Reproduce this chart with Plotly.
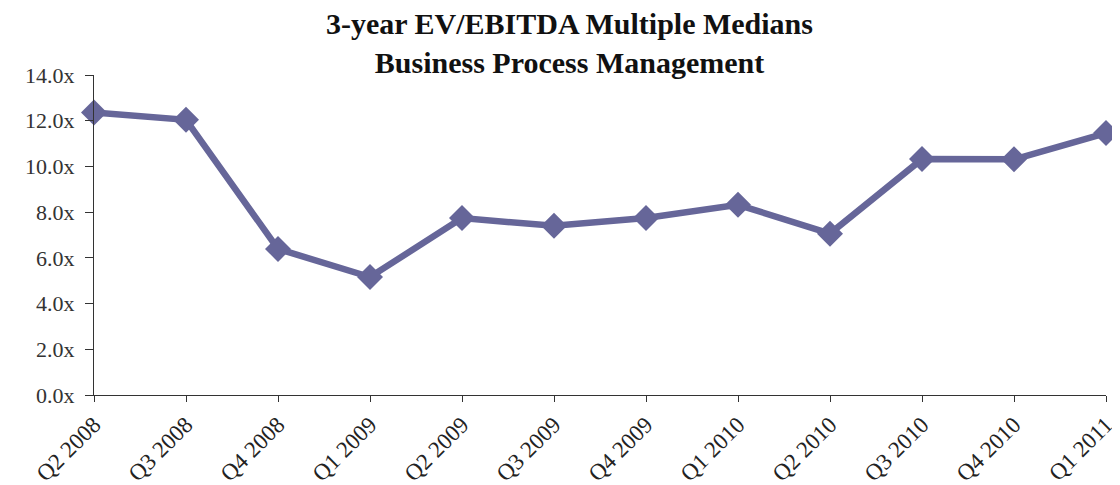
import plotly.graph_objects as go

quarters = ["Q2 2008", "Q3 2008", "Q4 2008", "Q1 2009", "Q2 2009", "Q3 2009",
            "Q4 2009", "Q1 2010", "Q2 2010", "Q3 2010", "Q4 2010", "Q1 2011"]
multiples = [12.36, 12.04, 6.39, 5.16, 7.74, 7.40, 7.74, 8.32, 7.06, 10.32, 10.31, 11.46]
y_ticks = [0, 2, 4, 6, 8, 10, 12, 14]
y_labels = [f"{v:.1f}x" for v in y_ticks]
title_lines = ["3-year EV/EBITDA Multiple Medians", "Business Process Management"]

fig = go.Figure(go.Scatter(
    x=quarters, y=multiples, mode="lines+markers",
    line=dict(color="#666699", width=6.5),
    marker=dict(symbol="diamond", size=20, color="#666699"),
    cliponaxis=False,
))

# page body has an 8px default margin; size the figure to fit the window
fig.update_layout(
    width=1112, height=477,
    margin=dict(l=86, r=14, t=67, b=90),
    paper_bgcolor="white", plot_bgcolor="white",
    showlegend=False,
    font=dict(family="Liberation Serif, Times New Roman, serif", color="#222222"),
)
fig.add_annotation(
    text="<b>" + "<br>".join(title_lines) + "</b>",
    xref="paper", yref="paper", x=0.470, y=1.0,
    xanchor="center", yanchor="bottom", yshift=-6,
    showarrow=False, align="center",
    font=dict(size=30, color="#111111"),
)
fig.update_xaxes(
    type="category", range=[0, 11], automargin=False,
    showline=True, linecolor="#333333", linewidth=1.2,
    ticks="outside", ticklen=6, tickcolor="#333333",
    tickangle=-45, tickfont=dict(size=23, color="#222222"),
    showgrid=False, zeroline=False,
)
fig.update_yaxes(
    range=[0, 14], tickvals=y_ticks, ticktext=y_labels, automargin=False,
    showline=True, linecolor="#333333", linewidth=1.2,
    ticks="outside", ticklen=8, tickcolor="#333333",
    ticklabelstandoff=6,
    tickfont=dict(size=22, color="#333333"),
    showgrid=False, zeroline=False,
)

fig.write_html("out.html")
